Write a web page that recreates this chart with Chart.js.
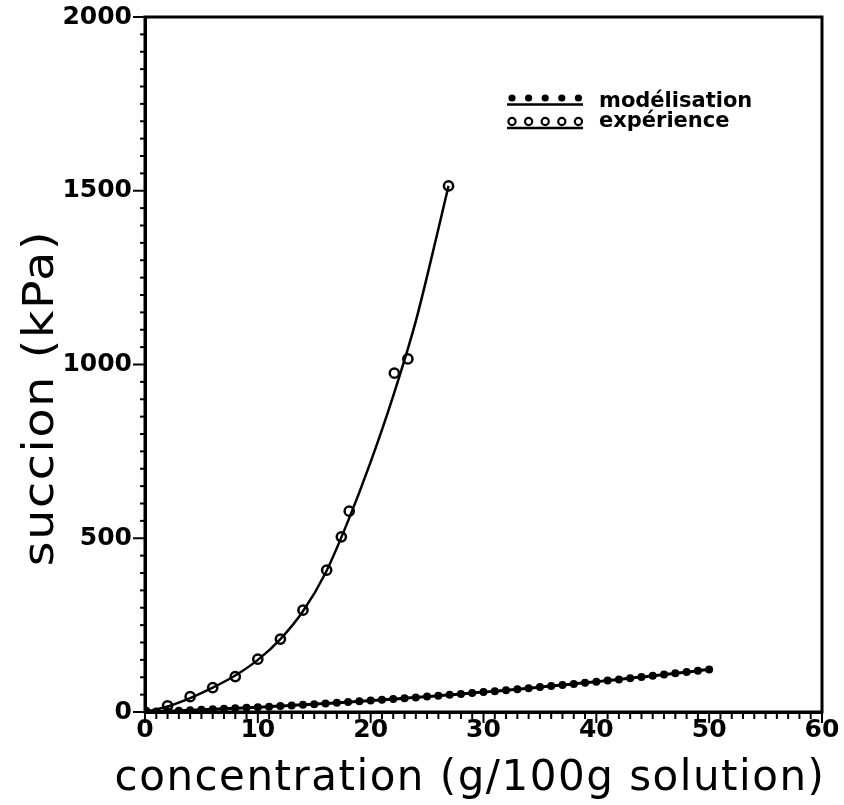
<!DOCTYPE html>
<html><head><meta charset="utf-8">
<script src="https://cdn.jsdelivr.net/npm/chart.js@4.4.1/dist/chart.umd.min.js"></script>
<style>html,body{margin:0;padding:0;background:#fff;}</style>
</head><body>
<canvas id="c" width="844" height="805"></canvas>
<script>
// ---- data ----
const xTickLabels = ['0','10','20','30','40','50','60'];
const yTickLabels = ['0','500','1000','1500','2000'];
const xTitle = 'concentration (g/100g solution)';
const yTitle = 'succion (kPa)';
const legendLabels = ['modélisation','expérience'];

const modelConc = [0,1,2,3,4,5,6,7,8,9,10,11,12,13,14,15,16,17,18,19,20,21,22,23,24,25,26,27,28,29,30,31,32,33,34,35,36,37,38,39,40,41,42,43,44,45,46,47,48,49,50];
const modelSuccion = [0,1.1,2.3,3.5,4.8,6.2,7.6,9,10.5,12.1,13.7,15.4,17.1,18.9,20.7,22.6,24.5,26.5,28.6,30.7,32.8,35,37.3,39.6,42,44.4,46.9,49.4,52,54.6,57.3,60,62.9,65.7,68.6,71.6,74.6,77.7,80.8,84,87.2,90.5,93.8,97.2,100.7,104.2,107.7,111.3,115,118.7,122.5];

const expConc = [0,2,4,6,8,10,12,14,16.1,17.4,18.1,22.1,23.3,26.9];
const expSuccion = [0,18,44,70,102,152,210,293,408,504,578,975,1016,1514];

const fitConc = [0,2,4,6,8,10,12,14,16,18,20,22,24,26,26.9];
const fitSuccion = [0,16,40,70,105,150,210,290,400,550,720,910,1125,1390,1514];

const pts = (xs, ys) => xs.map((x, i) => ({x: x, y: ys[i]}));

const BLACK = '#000';
const tickFont = {family: 'DejaVu Sans', weight: 'bold', size: 25};

const decor = {
  id: 'decor',
  afterDraw(chart) {
    const ctx = chart.ctx;
    const xs = chart.scales.x, ys = chart.scales.y;
    const ca = chart.chartArea;
    ctx.save();
    ctx.strokeStyle = BLACK;
    ctx.fillStyle = BLACK;
    // frame
    ctx.lineWidth = 3;
    ctx.strokeRect(ca.left, ca.top, ca.right - ca.left, ca.bottom - ca.top);
    // x ticks
    ctx.lineWidth = 2;
    for (let v = 0; v <= 60; v += 1) {
      const p = xs.getPixelForValue(v);
      const len = (v % 10 === 0) ? 11 : 7;
      ctx.beginPath(); ctx.moveTo(p, ca.bottom); ctx.lineTo(p, ca.bottom + len); ctx.stroke();
    }
    // y ticks
    for (let v = 0; v <= 2000; v += 50) {
      const p = ys.getPixelForValue(v);
      const len = (v % 500 === 0) ? 12 : 5;
      ctx.beginPath(); ctx.moveTo(ca.left, p); ctx.lineTo(ca.left - len, p); ctx.stroke();
    }
    // axis titles
    ctx.font = '42px "DejaVu Sans"';
    ctx.letterSpacing = '1.5px';
    ctx.textAlign = 'center';
    ctx.textBaseline = 'alphabetic';
    ctx.fillText(xTitle, 470, 790);
    ctx.save();
    ctx.translate(53, 398);
    ctx.rotate(-Math.PI / 2);
    ctx.scale(1.13, 1);
    ctx.fillText(yTitle, 0, 0);
    ctx.restore();
    ctx.letterSpacing = '0px';
    // legend
    const mx = [512, 528.6, 545.2, 561.8, 578.4];
    const rows = [{y: 98, line: 104.5, text: 107, filled: true}, {y: 121.5, line: 128, text: 127, filled: false}];
    rows.forEach((r, k) => {
      ctx.lineWidth = 2.5;
      ctx.beginPath(); ctx.moveTo(507, r.line); ctx.lineTo(583, r.line); ctx.stroke();
      mx.forEach(x => {
        ctx.beginPath(); ctx.arc(x, r.y, 3.6, 0, Math.PI * 2);
        if (r.filled) { ctx.fill(); } else { ctx.fillStyle = '#fff'; ctx.fill(); ctx.fillStyle = BLACK; ctx.lineWidth = 2.2; ctx.stroke(); }
      });
      ctx.font = 'bold 21px "DejaVu Sans"';
      ctx.textAlign = 'left';
      ctx.fillText(legendLabels[k], 599, r.text);
    });
    ctx.restore();
  }
};

new Chart(document.getElementById('c'), {
  type: 'scatter',
  data: {
    datasets: [
      {label: legendLabels[0], data: pts(modelConc, modelSuccion), showLine: true,
       borderColor: BLACK, backgroundColor: BLACK, borderWidth: 3, pointRadius: 4,
       pointBorderWidth: 0, tension: 0.2},
      {label: 'courbe', data: pts(fitConc, fitSuccion), showLine: true,
       borderColor: BLACK, borderWidth: 2.5, pointRadius: 0, cubicInterpolationMode: 'monotone'},
      {label: legendLabels[1], data: pts(expConc, expSuccion), showLine: false,
       borderColor: BLACK, backgroundColor: '#fff', pointRadius: 4.6, pointBorderWidth: 2.5}
    ]
  },
  options: {
    responsive: false,
    animation: false,
    layout: {padding: {top: 17, right: 22, left: 0, bottom: 0}},
    plugins: {legend: {display: false}, tooltip: {enabled: false}},
    scales: {
      x: {
        type: 'linear', min: 0, max: 60,
        afterFit(s) { s.height = 93; s.paddingLeft = 0; s.paddingRight = 0; },
        grid: {display: false, drawTicks: false},
        border: {display: true, color: BLACK, width: 3},
        ticks: {stepSize: 10, color: BLACK, font: tickFont, padding: 3, maxRotation: 0,
                callback: (v, i) => xTickLabels[i]}
      },
      y: {
        type: 'linear', min: 0, max: 2000,
        afterFit(s) { s.width = 145; s.paddingTop = 0; s.paddingBottom = 0; },
        grid: {display: false, drawTicks: false},
        border: {display: true, color: BLACK, width: 3},
        ticks: {stepSize: 500, color: BLACK, font: tickFont, padding: 13,
                callback: (v, i) => yTickLabels[i]}
      }
    }
  },
  plugins: [decor]
});
</script>
</body></html>
